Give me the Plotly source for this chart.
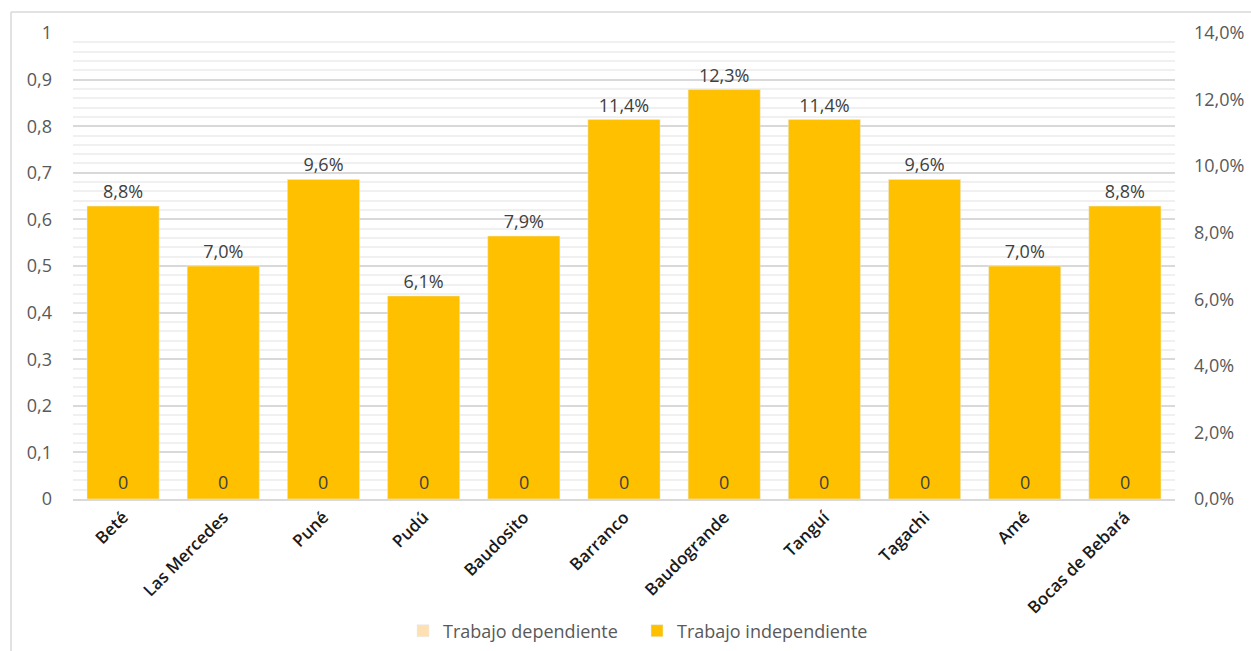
import plotly.graph_objects as go

categorias = ["Beté", "Las Mercedes", "Puné", "Pudú", "Baudosito", "Barranco",
              "Baudogrande", "Tanguí", "Tagachi", "Amé", "Bocas de Bebará"]
trabajo_dependiente = [0, 0, 0, 0, 0, 0, 0, 0, 0, 0, 0]
trabajo_independiente = [0.088, 0.070, 0.096, 0.061, 0.079, 0.114,
                         0.123, 0.114, 0.096, 0.070, 0.088]

W, H = 1251, 651
L, R, T, B = 73, 76, 33, 152
pw, ph = W - L - R, H - T - B
FONT = "Open Sans, DejaVu Sans, sans-serif"

fig = go.Figure()

fig.add_trace(go.Bar(
    x=categorias, y=trabajo_dependiente, name="Trabajo dependiente",
    marker_color="#FFE0B3", yaxis="y", offsetgroup="a", width=0.72,
))
fig.add_trace(go.Bar(
    x=categorias, y=trabajo_independiente, name="Trabajo independiente",
    marker_color="#FFC000", yaxis="y2", offsetgroup="a", width=0.72,
    text=[f"{v*100:.1f}".replace(".", ",") + "%" for v in trabajo_independiente],
    textposition="outside", cliponaxis=False,
    textfont=dict(family=FONT, size=18, color="#404040"),
))

annotations = []
for c, v in zip(categorias, trabajo_dependiente):
    annotations.append(dict(
        x=c, y=v, xref="x", yref="y", text=str(v), showarrow=False,
        yanchor="bottom", yshift=3,
        font=dict(family=FONT, size=18, color="#404040"),
    ))

fig.update_layout(
    width=W, height=H,
    margin=dict(l=L, r=R, t=T, b=B, autoexpand=False),
    paper_bgcolor="white", plot_bgcolor="white",
    separators=",.",
    barmode="overlay",
    showlegend=True,
    legend=dict(
        orientation="h", x=(403 - L) / pw, xanchor="left",
        y=(H - B - 631) / ph, yanchor="middle",
        font=dict(family=FONT, size=18, color="#595959"),
        traceorder="normal", entrywidth=189, entrywidthmode="pixels",
    ),
    xaxis=dict(
        automargin=False,
        tickangle=-45,
        tickfont=dict(family=FONT, size=17, color="#1a1a1a", weight=600),
        showline=True, linecolor="#D9D9D9", linewidth=1.5,
        ticks="", showgrid=False,
    ),
    yaxis=dict(
        automargin=False,
        range=[0, 1], dtick=0.1, tickformat="~g",
        tickfont=dict(family=FONT, size=18, color="#595959"),
        showgrid=True, gridcolor="#D9D9D9", gridwidth=1.5,
        minor=dict(dtick=0.02, showgrid=True, gridcolor="#F0F0F0", gridwidth=1.5),
        zeroline=False, ticks="", ticklabelstandoff=20,
    ),
    yaxis2=dict(
        automargin=False,
        range=[0, 0.14], dtick=0.02, tickformat=".1%",
        overlaying="y", side="right",
        tickfont=dict(family=FONT, size=18, color="#595959"),
        showgrid=False, zeroline=False, ticks="", ticklabelstandoff=18,
    ),
    annotations=annotations,
    shapes=[
        dict(type="line", xref="paper", yref="paper",
             x0=(11 - L) / pw, x1=(1251 - L) / pw,
             y0=(H - B - 12) / ph, y1=(H - B - 12) / ph,
             line=dict(color="#D9D9D9", width=1.5)),
        dict(type="line", xref="paper", yref="paper",
             x0=(11 - L) / pw, x1=(11 - L) / pw,
             y0=(H - B - 12) / ph, y1=(H - B - 660) / ph,
             line=dict(color="#D9D9D9", width=1.5)),
    ],
)

fig.write_html(
    "out.html",
    config={"displayModeBar": False},
    post_script="document.body.style.margin='0';document.body.style.overflow='hidden';",
)
